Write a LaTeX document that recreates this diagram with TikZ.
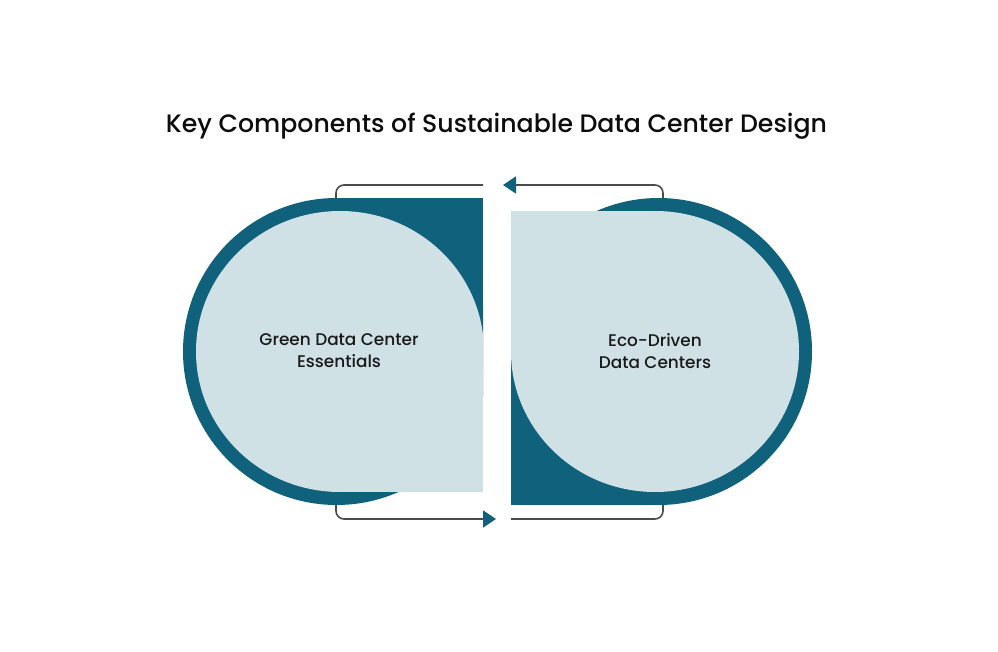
\documentclass[tikz,border=0pt]{standalone}
\usepackage{fontspec}
\setmainfont{Poppins}[BoldFont=* Medium]
\usetikzlibrary{arrows.meta}
\definecolor{deep}{RGB}{16,98,124}
\definecolor{pale}{RGB}{208,225,230}
\definecolor{wire}{RGB}{75,75,75}

\begin{document}
\begin{tikzpicture}[x=1pt,y=-1pt,
	link/.style={draw=wire,line width=1.6pt,rounded corners=8pt},
	tip/.style={arrows={-{Triangle[length=13pt,width=17pt,color=deep]}}},
	lbl/.style={align=center,font=\fontsize{16.9}{22}\selectfont\bfseries,text=black!90}]
	\useasboundingbox (0,0) rectangle (998,652);
	\fill[white] (0,0) rectangle (998,652);
	\node[font=\fontsize{25.2}{28}\selectfont\bfseries,text=black!95] (T) at (496.5,126.5) {Key Components of Sustainable Data Center Design};
	% left loop
	\begin{scope}
		\clip (0,0) rectangle (483,652);
		\fill[deep] (336.5,351.5) circle (153.5);
		\fill[deep] (336.5,198) rectangle (483,351.5);
		\fill[pale] (340,351.5) ellipse [x radius=144,y radius=140.5];
		\fill[pale] (340,351.5) rectangle (483,492);
	\end{scope}
	% right loop
	\begin{scope}
		\clip (511,0) rectangle (998,652);
		\fill[deep] (658.5,351.5) circle (153.5);
		\fill[deep] (511,351.5) rectangle (658.5,505);
		\fill[pale] (655,351.5) ellipse [x radius=144,y radius=140.5];
		\fill[pale] (511,211) rectangle (655,351.5);
	\end{scope}
	\node[lbl] (G) at (339,351) {Green Data Center\\Essentials};
	\node[lbl] (E) at (655,351) {Eco-Driven\\Data Centers};
	% connectors
	\coordinate (LT) at (336,198);
	\coordinate (LTe) at (483,185);
	\coordinate (RT) at (663,198);
	\coordinate (RTe) at (503,185);
	\coordinate (LB) at (336,505);
	\coordinate (LBe) at (496,519);
	\coordinate (RB) at (663,505);
	\coordinate (RBe) at (511,519);
	\draw[link] (LT) |- (LTe);
	\draw[link,tip] (RT) |- (RTe);
	\draw[link,tip] (LB) |- (LBe);
	\draw[link] (RB) |- (RBe);
\end{tikzpicture}
\end{document}
